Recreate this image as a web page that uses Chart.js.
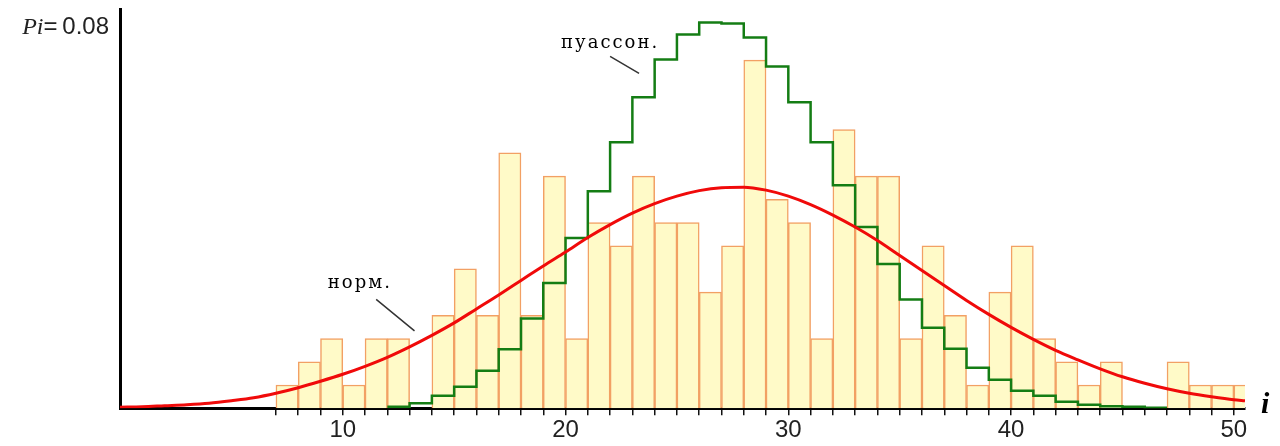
<!DOCTYPE html>
<html lang="ru">
<head>
    <meta charset="UTF-8">
    <title>Распределение Pi</title>
    <script src="https://cdn.jsdelivr.net/npm/chart.js"></script>
    <style>
        body, html {
            margin: 0;
            padding: 0;
            background: #fff;
        }
        #wrap {
            width: 1280px;
            height: 446px;
        }
    </style>
</head>
<body>
    <div id="wrap">
        <canvas id="distChart" width="1280" height="446"></canvas>
    </div>

    <script>
        // гистограмма: число наблюдений в интервале [i, i+1)
        const bins = [7, 8, 9, 10, 11, 12, 13, 14, 15, 16, 17, 18, 19,
                      20, 21, 22, 23, 24, 25, 26, 27, 28, 29, 30, 31, 32,
                      33, 34, 35, 36, 37, 38, 39, 40, 41, 42, 43, 44, 45, 46, 47, 48, 49, 50];
        const counts = [1, 2, 3, 1, 3, 3, 0, 4, 6, 4, 11, 4, 10,
                        3, 8, 7, 10, 8, 8, 5, 7, 15, 9, 8, 3, 12,
                        10, 10, 3, 7, 4, 1, 5, 7, 3, 2, 1, 2, 0, 0, 2, 1, 1, 1];
        const sampleSize = 215;

        // теоретические вероятности Пуассона (ступень на [k, k+1))
        const poissonK = [12, 13, 14, 15, 16, 17, 18, 19, 20, 21, 22, 23, 24, 25, 26, 27, 28, 29,
                          30, 31, 32, 33, 34, 35, 36, 37, 38, 39, 40, 41, 42, 43, 44, 45, 46];
        const poissonP = [0.0003, 0.0010, 0.0025, 0.0043, 0.0075, 0.0118, 0.0180, 0.0251, 0.0341,
                          0.0435, 0.0533, 0.0623, 0.0699, 0.0749, 0.0773, 0.0771, 0.0743, 0.0685,
                          0.0613, 0.0533, 0.0447, 0.0363, 0.0289, 0.0218, 0.0161, 0.0119, 0.0081,
                          0.0057, 0.0035, 0.0025, 0.0013, 0.0007, 0.0004, 0.0003, 0.0001];

        // нормальная кривая
        const normX = [0, 1, 2, 3, 4, 5, 6, 7, 8, 9, 10, 11, 12, 13, 14, 15, 16, 17, 18, 19, 20,
                       21, 22, 23, 24, 25, 26, 27, 28, 29, 30, 31, 32, 33, 34, 35, 36, 37, 38, 39, 40,
                       41, 42, 43, 44, 45, 46, 47, 48, 49, 50, 50.5];
        const normP = [0.0002, 0.0003, 0.0005, 0.0007, 0.0010, 0.0015, 0.0021, 0.0030, 0.0041, 0.0054,
                       0.0068, 0.0084, 0.0102, 0.0123, 0.0146, 0.0171, 0.0199, 0.0227, 0.0256, 0.0285,
                       0.0313, 0.0342, 0.0368, 0.0391, 0.0410, 0.0425, 0.0436, 0.0442, 0.0443, 0.0437,
                       0.0425, 0.0408, 0.0387, 0.0363, 0.0336, 0.0306, 0.0276, 0.0246, 0.0216, 0.0188,
                       0.0162, 0.0138, 0.0116, 0.0097, 0.0079, 0.0063, 0.0050, 0.0039, 0.0030, 0.0023,
                       0.0017, 0.0015];

        const xTickLabels = [10, 20, 30, 40, 50];
        const yMax = 0.08;

        const barData = bins.map((b, i) => ({ x: b + 0.5, y: counts[i] / sampleSize }));
        const poissonData = poissonK.map((k, i) => ({ x: k, y: poissonP[i] }));
        poissonData.push({ x: poissonK[poissonK.length - 1] + 1, y: poissonP[poissonP.length - 1] });
        const normData = normX.map((x, i) => ({ x: x, y: normP[i] }));

        // подписи и выноски
        const notes = {
            id: 'notes',
            afterDraw(chart) {
                const c = chart.ctx;
                const xs = chart.scales.x, ys = chart.scales.y;
                const area = chart.chartArea;
                const px = v => xs.getPixelForValue(v);
                const py = v => ys.getPixelForValue(v);
                c.save();

                // Pi=0.08
                const yTop = py(yMax);
                c.fillStyle = '#222';
                c.textBaseline = 'alphabetic';
                c.textAlign = 'right';
                c.font = '24px "Liberation Sans", Arial, sans-serif';
                c.fillText('=\u20090.08', area.left - 11, yTop + 25);
                const w = c.measureText('=\u20090.08').width;
                c.font = 'italic 24px "Liberation Serif", serif';
                c.fillText('Pi', area.left - 11 - w, yTop + 25);

                // i
                c.textAlign = 'left';
                c.font = 'italic bold 30px "Liberation Serif", serif';
                c.fillStyle = '#000';
                c.fillText('i', area.right + 16, area.bottom + 5);

                // пуассон. / норм.
                c.font = '18px "DejaVu Serif", serif';
                c.fillStyle = '#000';
                c.textBaseline = 'middle';
                if ('letterSpacing' in c) c.letterSpacing = '2px';
                c.fillText('пуассон.', px(19.8), py(0.0732));
                c.fillText('норм.', px(9.33), py(0.0251));
                if ('letterSpacing' in c) c.letterSpacing = '0px';

                c.strokeStyle = '#333';
                c.lineWidth = 1.5;
                c.beginPath();
                c.moveTo(px(22.0), py(0.0705));
                c.lineTo(px(23.3), py(0.0671));
                c.moveTo(px(11.5), py(0.0218));
                c.lineTo(px(13.22), py(0.0155));
                c.stroke();
                c.restore();
            }
        };

        new Chart(document.getElementById('distChart'), {
            type: 'bar',
            data: {
                datasets: [
                    {
                        type: 'line',
                        label: 'норм.',
                        data: normData,
                        borderColor: 'rgb(240, 10, 10)',
                        borderWidth: 3,
                        pointRadius: 0,
                        cubicInterpolationMode: 'monotone',
                        fill: false,
                        order: 0
                    },
                    {
                        type: 'line',
                        label: 'пуассон.',
                        data: poissonData,
                        borderColor: 'rgb(20, 125, 20)',
                        borderWidth: 2.5,
                        pointRadius: 0,
                        stepped: 'before',
                        fill: false,
                        order: 1
                    },
                    {
                        type: 'bar',
                        label: 'частоты',
                        data: barData,
                        backgroundColor: 'rgb(255, 250, 200)',
                        borderColor: 'rgb(242, 160, 100)',
                        borderWidth: 1.5,
                        borderSkipped: 'bottom',
                        barPercentage: 1,
                        categoryPercentage: 1,
                        order: 2
                    }
                ]
            },
            options: {
                responsive: false,
                animation: false,
                devicePixelRatio: 1,
                layout: {
                    padding: { left: 112, right: 35, top: 9, bottom: 0 }
                },
                plugins: {
                    legend: { display: false },
                    tooltip: { enabled: false }
                },
                scales: {
                    x: {
                        type: 'linear',
                        min: 0,
                        max: 50.5,
                        offset: false,
                        afterBuildTicks(scale) {
                            const t = [];
                            for (let v = 0; v <= 50; v++) t.push({ value: v });
                            scale.ticks = t;
                        },
                        grid: {
                            display: true,
                            offset: false,
                            drawOnChartArea: false,
                            drawTicks: true,
                            tickLength: 7,
                            lineWidth: 1.5,
                            color: ctx => (ctx.tick && ctx.tick.value >= bins[0]) ? '#111' : 'rgba(0,0,0,0)'
                        },
                        border: { display: true, color: '#000', width: 3 },
                        ticks: {
                            autoSkip: false,
                            maxRotation: 0,
                            padding: 1,
                            color: '#222',
                            font: { family: '"Liberation Sans", Arial, sans-serif', size: 24 },
                            callback: v => xTickLabels.includes(v) ? String(v) : ''
                        }
                    },
                    y: {
                        min: 0,
                        max: yMax,
                        grid: { display: false },
                        ticks: { display: false },
                        border: { display: true, color: '#000', width: 3 }
                    }
                }
            },
            plugins: [notes]
        });
    </script>
</body>
</html>
